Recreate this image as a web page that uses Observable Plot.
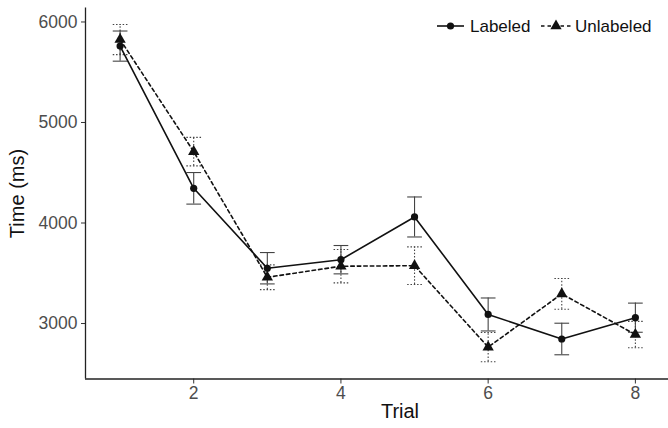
<!DOCTYPE html>
<html>
<head>
<meta charset="utf-8">
<script src="https://cdn.jsdelivr.net/npm/d3@7"></script>
<script src="https://cdn.jsdelivr.net/npm/@observablehq/plot@0.6"></script>
<style>
  html, body { margin: 0; padding: 0; background: #fff; }
  #wrap { position: relative; width: 668px; height: 428px; font-family: "Liberation Sans", Arial, sans-serif; }
  #legend { position: absolute; left: 0; top: 0; }
</style>
</head>
<body>
<div id="wrap"></div>
<script>
// ---- data ----
const trials = [1, 2, 3, 4, 5, 6, 7, 8];
const labeledMean   = [5760, 4345, 3550, 3635, 4060, 3090, 2846, 3058];
const labeledSE     = [150, 157, 156, 141, 199, 164, 157, 145];
const unlabeledMean = [5825, 4710, 3460, 3570, 3575, 2765, 3295, 2890];
const unlabeledSE   = [150, 142, 123, 166, 187, 145, 153, 131];
const seriesNames = ["Labeled", "Unlabeled"];
const xTicks = [2, 4, 6, 8];
const yTicks = [3000, 4000, 5000, 6000];

const build = (mean, se, name) => trials.map((t, i) => ({
  trial: t, mean: mean[i], lo: mean[i] - se[i], hi: mean[i] + se[i], group: name
}));
const lab = build(labeledMean, labeledSE, seriesNames[0]);
const unl = build(unlabeledMean, unlabeledSE, seriesNames[1]);

const capHalf = 0.1;
const barMarks = (data, color, dash) => [
  Plot.ruleX(data, {x: "trial", y1: "lo", y2: "hi", stroke: color, strokeWidth: 1.1, strokeDasharray: dash}),
  Plot.link(data, {x1: d => d.trial - capHalf, x2: d => d.trial + capHalf, y1: "hi", y2: "hi", stroke: color, strokeWidth: 1.1, strokeDasharray: dash}),
  Plot.link(data, {x1: d => d.trial - capHalf, x2: d => d.trial + capHalf, y1: "lo", y2: "lo", stroke: color, strokeWidth: 1.1, strokeDasharray: dash})
];

const chart = Plot.plot({
  width: 668,
  height: 428,
  marginLeft: 85,
  marginRight: 0,
  marginTop: 7.5,
  marginBottom: 49.5,
  style: {fontFamily: "Liberation Sans, Arial, sans-serif", background: "#fff"},
  x: {domain: [0.53, 8.45]},
  y: {domain: [2448, 6139]},
  marks: [
    Plot.axisY({ticks: yTicks, tickFormat: d => String(d), tickSize: 4, tickPadding: 4, stroke: "#333", fill: "#4d4d4d", fontSize: 17.5,
      label: "Time (ms)", labelAnchor: "center", labelArrow: "none", labelOffset: 76}),
    Plot.axisX({ticks: xTicks, tickFormat: d => String(d), tickSize: 5, tickPadding: 3, stroke: "#333", fill: "#4d4d4d", fontSize: 17.5, label: null}),
    Plot.ruleY([2448], {stroke: "#222", strokeWidth: 1.3}),
    Plot.ruleX([0.53], {stroke: "#222", strokeWidth: 1.3}),
    ...barMarks(lab, "#444", null),
    ...barMarks(unl, "#444", "1.5,1.8"),
    Plot.line(lab, {x: "trial", y: "mean", stroke: "#111", strokeWidth: 1.6}),
    Plot.line(unl, {x: "trial", y: "mean", stroke: "#111", strokeWidth: 1.6, strokeDasharray: "3.5,3"}),
    Plot.dot(lab, {x: "trial", y: "mean", r: 3.6, fill: "#111", symbol: "circle"}),
    Plot.dot(unl, {x: "trial", y: "mean", r: 4.2, fill: "#111", symbol: "triangle"})
  ]
});

const wrap = document.getElementById("wrap");
wrap.appendChild(chart);

// x-axis title
const svg = d3.select(chart);
svg.append("text").attr("x", 400).attr("y", 418).attr("text-anchor", "middle")
  .attr("font-size", 20).attr("fill", "#111").text("Trial");
// restyle y-axis title
svg.selectAll("g[aria-label='y-axis label'] text").attr("font-size", 20).attr("fill", "#111");

// legend
const leg = d3.select(wrap).append("svg").attr("id", "legend").attr("width", 668).attr("height", 45)
  .style("font-family", "Liberation Sans, Arial, sans-serif");
const ly = 26;
leg.append("line").attr("x1", 437).attr("x2", 464).attr("y1", ly).attr("y2", ly).attr("stroke", "#111").attr("stroke-width", 1.6);
leg.append("circle").attr("cx", 450.5).attr("cy", ly).attr("r", 3.6).attr("fill", "#111");
leg.append("text").attr("x", 470).attr("y", ly + 6.2).attr("font-size", 17).attr("fill", "#111").text(seriesNames[0]);
leg.append("line").attr("x1", 541).attr("x2", 571).attr("y1", ly).attr("y2", ly).attr("stroke", "#111").attr("stroke-width", 1.6).attr("stroke-dasharray", "3.5,3");
leg.append("path").attr("d", d3.symbol(d3.symbolTriangle, 4.2 * 4.2 * Math.PI)()).attr("transform", `translate(556,${ly})`).attr("fill", "#111");
leg.append("text").attr("x", 575).attr("y", ly + 6.2).attr("font-size", 17).attr("fill", "#111").text(seriesNames[1]);
</script>
</body>
</html>
